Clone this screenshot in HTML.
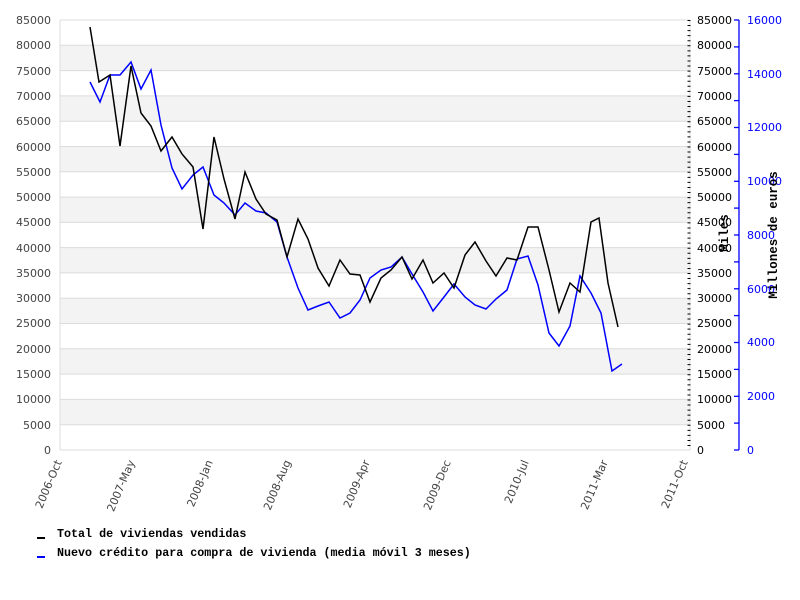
<!DOCTYPE html>
<html><head><meta charset="utf-8"><style>body{margin:0;background:#fff}svg{display:block}</style></head><body>
<svg width="800" height="600" xmlns="http://www.w3.org/2000/svg" font-family="DejaVu Sans, sans-serif">
<rect width="800" height="600" fill="#fff"/>
<g fill="#f3f3f3">
<rect x="60" y="45.3" width="630" height="25.3"/>
<rect x="60" y="95.9" width="630" height="25.3"/>
<rect x="60" y="146.5" width="630" height="25.3"/>
<rect x="60" y="197.1" width="630" height="25.3"/>
<rect x="60" y="247.6" width="630" height="25.3"/>
<rect x="60" y="298.2" width="630" height="25.3"/>
<rect x="60" y="348.8" width="630" height="25.3"/>
<rect x="60" y="399.4" width="630" height="25.3"/>
</g>
<g stroke="#dcdcdc" stroke-width="1">
<line x1="60" y1="20" x2="690" y2="20"/><line x1="60" y1="45.3" x2="690" y2="45.3"/><line x1="60" y1="70.6" x2="690" y2="70.6"/><line x1="60" y1="95.9" x2="690" y2="95.9"/><line x1="60" y1="121.2" x2="690" y2="121.2"/><line x1="60" y1="146.5" x2="690" y2="146.5"/><line x1="60" y1="171.8" x2="690" y2="171.8"/><line x1="60" y1="197.1" x2="690" y2="197.1"/><line x1="60" y1="222.4" x2="690" y2="222.4"/><line x1="60" y1="247.6" x2="690" y2="247.6"/><line x1="60" y1="272.9" x2="690" y2="272.9"/><line x1="60" y1="298.2" x2="690" y2="298.2"/><line x1="60" y1="323.5" x2="690" y2="323.5"/><line x1="60" y1="348.8" x2="690" y2="348.8"/><line x1="60" y1="374.1" x2="690" y2="374.1"/><line x1="60" y1="399.4" x2="690" y2="399.4"/><line x1="60" y1="424.7" x2="690" y2="424.7"/><line x1="60" y1="450" x2="690" y2="450"/>
<line x1="60" y1="20" x2="60" y2="450"/><line x1="690" y1="20" x2="690" y2="450"/>
</g>
<g font-size="11" fill="#444" text-anchor="end">
<text x="51" y="24">85000</text><text x="51" y="49">80000</text><text x="51" y="75">75000</text><text x="51" y="100">70000</text><text x="51" y="125">65000</text><text x="51" y="151">60000</text><text x="51" y="176">55000</text><text x="51" y="201">50000</text><text x="51" y="226">45000</text><text x="51" y="252">40000</text><text x="51" y="277">35000</text><text x="51" y="302">30000</text><text x="51" y="327">25000</text><text x="51" y="353">20000</text><text x="51" y="378">15000</text><text x="51" y="403">10000</text><text x="51" y="429">5000</text><text x="51" y="454">0</text>
</g>
<g font-size="11" fill="#000">
<text x="697" y="24">85000</text><text x="697" y="49">80000</text><text x="697" y="75">75000</text><text x="697" y="100">70000</text><text x="697" y="125">65000</text><text x="697" y="151">60000</text><text x="697" y="176">55000</text><text x="697" y="201">50000</text><text x="697" y="226">45000</text><text x="697" y="252">40000</text><text x="697" y="277">35000</text><text x="697" y="302">30000</text><text x="697" y="327">25000</text><text x="697" y="353">20000</text><text x="697" y="378">15000</text><text x="697" y="403">10000</text><text x="697" y="429">5000</text><text x="697" y="454">0</text>
</g>
<line x1="689" y1="20" x2="689" y2="450" stroke="#000" stroke-width="3" stroke-dasharray="1 4.06"/>
<g stroke="#00f" stroke-width="1.3">
<line x1="739" y1="20" x2="739" y2="450"/>
<line x1="734" y1="20" x2="739" y2="20"/><line x1="734" y1="46.9" x2="739" y2="46.9"/><line x1="734" y1="73.8" x2="739" y2="73.8"/><line x1="734" y1="100.6" x2="739" y2="100.6"/><line x1="734" y1="127.5" x2="739" y2="127.5"/><line x1="734" y1="154.4" x2="739" y2="154.4"/><line x1="734" y1="181.3" x2="739" y2="181.3"/><line x1="734" y1="208.1" x2="739" y2="208.1"/><line x1="734" y1="235" x2="739" y2="235"/><line x1="734" y1="261.9" x2="739" y2="261.9"/><line x1="734" y1="288.8" x2="739" y2="288.8"/><line x1="734" y1="315.6" x2="739" y2="315.6"/><line x1="734" y1="342.5" x2="739" y2="342.5"/><line x1="734" y1="369.4" x2="739" y2="369.4"/><line x1="734" y1="396.3" x2="739" y2="396.3"/><line x1="734" y1="423.1" x2="739" y2="423.1"/><line x1="734" y1="450" x2="739" y2="450"/>
</g>
<g font-size="11" fill="#00f">
<text x="747" y="24">16000</text><text x="747" y="78">14000</text><text x="747" y="131">12000</text><text x="747" y="185">10000</text><text x="747" y="239">8000</text><text x="747" y="293">6000</text><text x="747" y="346">4000</text><text x="747" y="400">2000</text><text x="747" y="454">0</text>
</g>
<g font-size="12.5" font-weight="bold" font-family="Liberation Mono, monospace" fill="#000" text-anchor="middle">
<text transform="translate(728,233) rotate(-90)">Miles</text>
<text transform="translate(777,235) rotate(-90)">Millones de euros</text>
</g>
<g font-size="11" fill="#444" text-anchor="end">
<text transform="translate(62,462) rotate(-67)">2006-Oct</text>
<text transform="translate(135,462) rotate(-67)">2007-May</text>
<text transform="translate(213,462) rotate(-67)">2008-Jan</text>
<text transform="translate(291,462) rotate(-67)">2008-Aug</text>
<text transform="translate(370,462) rotate(-67)">2009-Apr</text>
<text transform="translate(451,462) rotate(-67)">2009-Dec</text>
<text transform="translate(529,462) rotate(-67)">2010-Jul</text>
<text transform="translate(608,462) rotate(-67)">2011-Mar</text>
<text transform="translate(688,462) rotate(-67)">2011-Oct</text>
</g>
<polyline fill="none" stroke="#00f" stroke-width="1.5" points="90,82 100,102 110,75 120,75 131,62 141,89 151,70 161,125 172,168 182,189 193,175 203,167 214,195 224,203 235,215 245,203 256,211 266,213 277,222 287,257 298,288 308,310 318,306 329,302 340,318 350,313 360,300 370,278 381,270 391,267 402,257 412,274 423,292 433,311 444,297 454,284 465,297 475,305 486,309 496,299 507,290 517,259 528,256 538,285 549,333 559,346 570,326 580,276 591,293 601,313 612,371 622,364"/>
<polyline fill="none" stroke="#000" stroke-width="1.5" points="90,27 99,82 110,75 120,146 131,66 141,113 151,126 161,151 172,137 182,154 193,167 203,229 214,137 224,179 235,219 245,172 256,199 266,214 277,220 287,257 298,219 308,239 318,268 329,286 340,260 350,274 360,275 370,302 381,278 391,270 402,257 412,279 423,260 433,283 444,273 454,288 465,255 475,242 486,261 496,276 507,258 517,260 528,227 538,227 549,270 559,312 570,283 580,292 591,222 599,218 608,283 618,327"/>
<g font-family="Liberation Mono, monospace" font-size="11.7" font-weight="bold" fill="#000">
<rect x="37" y="537" width="8" height="2" fill="#000"/>
<text x="57" y="537">Total de viviendas vendidas</text>
<rect x="37" y="556" width="8" height="2" fill="#00f"/>
<text x="57" y="556">Nuevo crédito para compra de vivienda (media móvil 3 meses)</text>
</g>
</svg>
</body></html>
